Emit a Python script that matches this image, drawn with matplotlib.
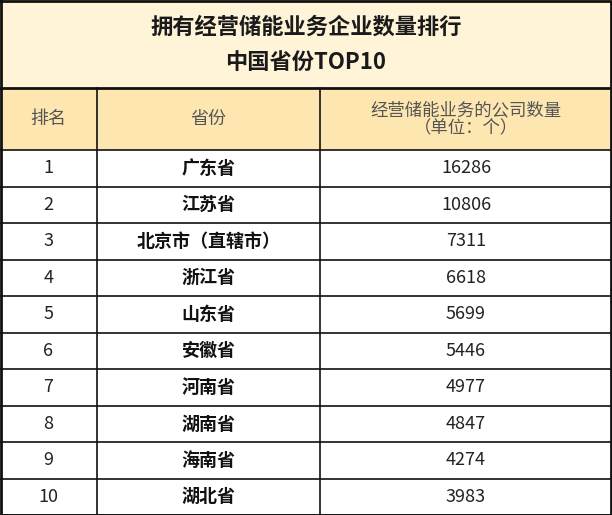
import matplotlib
matplotlib.use("Agg")
import matplotlib.pyplot as plt
from matplotlib.patches import Rectangle

title_lines = ["拥有经营储能业务企业数量排行", "中国省份TOP10"]
headers = ["排名", "省份", "经营储能业务的公司数量\n（单位：个）"]
ranks = ["1", "2", "3", "4", "5", "6", "7", "8", "9", "10"]
provinces = ["广东省", "江苏省", "北京市（直辖市）", "浙江省", "山东省", "安徽省", "河南省", "湖南省", "海南省", "湖北省"]
counts = [16286, 10806, 7311, 6618, 5699, 5446, 4977, 4847, 4274, 3983]

FONT = "Noto Sans CJK SC"
W, H = 612, 515
fig = plt.figure(figsize=(6.12, 5.15), dpi=100)
ax = fig.add_axes([0, 0, 1, 1])
ax.set_xlim(0, W); ax.set_ylim(H, 0); ax.axis("off")

cols = [0, 97, 320, 612]
title_bottom, header_bottom = 88, 150
row_h = (H - header_bottom) / len(ranks)

ax.add_patch(Rectangle((0, 0), W, title_bottom, color="#FFF3D8", zorder=0))
ax.add_patch(Rectangle((0, title_bottom), W, header_bottom - title_bottom, color="#FDE6B0", zorder=0))
ax.add_patch(Rectangle((0, header_bottom), W, H - header_bottom, color="white", zorder=0))

lc = "#111111"
ax.plot([1, W - 1, W - 1, 1, 1], [1, 1, H, H, 1], color=lc, lw=2)
ax.plot([0, W], [title_bottom, title_bottom], color=lc, lw=2)
for i in range(len(ranks) + 1):
    y = header_bottom + i * row_h
    ax.plot([0, W], [y, y], color=lc, lw=1.2)
for x in cols[1:-1]:
    ax.plot([x, x], [title_bottom, H], color=lc, lw=1.2)

ax.text(W / 2, 27, title_lines[0], ha="center", va="center", fontsize=16, fontweight="heavy", family=FONT, color="#1a1a1a")
ax.text(W / 2, 62, title_lines[1], ha="center", va="center", fontsize=16, fontweight="heavy", family=FONT, color="#1a1a1a")

hy = (title_bottom + header_bottom) / 2
for j, h in enumerate(headers):
    cx = (cols[j] + cols[j + 1]) / 2
    ax.text(cx, hy, h, ha="center", va="center", fontsize=13 if j < 2 else 12.5, color="#555555",
            family=FONT, linespacing=1.0)

for i in range(len(ranks)):
    cy = header_bottom + (i + 0.5) * row_h
    ax.text((cols[0] + cols[1]) / 2, cy, ranks[i], ha="center", va="center", fontsize=13, family=FONT, color="#222222")
    ax.text((cols[1] + cols[2]) / 2, cy, provinces[i], ha="center", va="center", fontsize=13,
            fontweight="bold", family=FONT, color="#111111")
    ax.text((cols[2] + cols[3]) / 2, cy, str(counts[i]), ha="center", va="center", fontsize=13, family=FONT, color="#222222")

fig.savefig("out.png", dpi=100)
